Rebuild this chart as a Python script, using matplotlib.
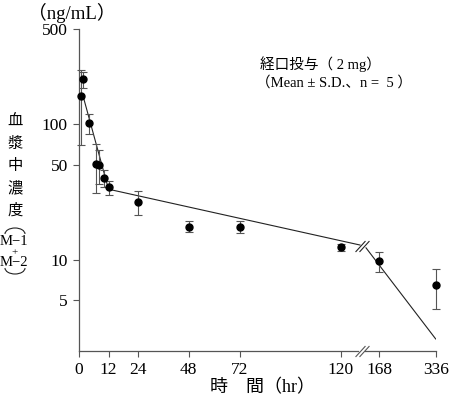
import numpy as np
import matplotlib
matplotlib.use('Agg')
from matplotlib import pyplot as plt
from matplotlib.path import Path
from matplotlib.patches import Arc

# data (hr, ng/mL)
time_h = [1, 1.5, 4, 7, 8, 10, 12, 24, 48, 72, 120, 168, 336]
conc = [160, 213, 101, 51, 50, 40, 34, 26.7, 17.5, 17.5, 12.3, 9.7, 6.45]
conc_sd = [90, 28, 17, 20, 14, 6, 4, 5.3, 1.6, 1.7, 0.75, 1.6, 2.1]

# fitted curve, drawn in two pieces around the axis break
fit1_t = [1.75, 12, 144]
fit1_c = [158, 33, 12.8]
fit2_t = [151.6, 336]
fit2_c = [12.2, 2.6]

xticks = [0, 12, 24, 48, 72, 120, 168, 336]
yticks = [5, 10, 50, 100, 500]
ylabel_chars = ['血', '漿', '中', '濃', '度']

# broken time axis: piecewise linear scale
sx = [0, 24, 120, 168, 336]
sp = [0, 59, 262, 300, 356.7]
def fwd(x):
    return np.interp(x, sx, sp)
def inv(p):
    return np.interp(p, sp, sx)

serif = ['Liberation Serif', 'Noto Sans CJK JP']
cjk = ['Noto Sans CJK JP', 'DejaVu Sans']
ink = '#222222'
axc = '#555555'

fig = plt.figure(figsize=(4.5, 3.98), dpi=100)
ax = fig.add_axes([79/450, 1-351/398, (435.7-79)/450, (351-29)/398])
ax.set_xscale('function', functions=(fwd, inv))
ax.set_yscale('log')
ax.set_xlim(0, 336)
ax.set_ylim(2.12, 500)

eb = ax.errorbar(time_h, conc, yerr=conc_sd, fmt='o', color='black', ms=5,
                 ecolor='#555555', elinewidth=0.8, capsize=3, capthick=0.8, zorder=3)
for art in eb.lines[1] + eb.lines[2] + (eb.lines[0],):
    art.set_clip_on(False)
ax.plot(fit1_t, fit1_c, color=ink, lw=0.8)
ax.plot(fit2_t, fit2_c, color=ink, lw=0.8)

# break marks
brk = Path([(-7, -5.5), (3, 5.5), (-3, -5.5), (7, 5.5)],
           [Path.MOVETO, Path.LINETO, Path.MOVETO, Path.LINETO])
ax.plot([146.5], [12.5], marker=brk, ms=10, mec=ink, mew=0.8, ls='none')
ax.plot([146.5], [2.12], marker=brk, ms=10, mec=axc, mew=0.8, ls='none', clip_on=False)

# bottom axis drawn by hand with a gap
for a, b in [(0, 142.1), (150.9, 336)]:
    ax.plot([a, b], [2.12, 2.12], color=axc, lw=0.9, clip_on=False)

ax.spines['top'].set_visible(False)
ax.spines['right'].set_visible(False)
ax.spines['bottom'].set_visible(False)
ax.spines['left'].set_color(axc)
ax.spines['left'].set_linewidth(0.9)

ax.set_xticks(xticks)
ax.set_xticklabels([str(v) for v in xticks], family=serif, fontsize=12.5)
ax.set_yticks(yticks)
ax.set_yticklabels([str(v) for v in yticks], family=serif, fontsize=12.5)
ax.yaxis.set_minor_locator(matplotlib.ticker.NullLocator())
ax.xaxis.set_minor_locator(matplotlib.ticker.NullLocator())
ax.tick_params(axis='both', length=4, width=0.8, color=axc, pad=4)

fig.text(72/450, 1-13/398, '（ng/mL）', family=serif, fontsize=13.5,
         ha='center', va='center')
ys = [120.7, 143, 165.7, 188, 210]
for ch, y in zip(ylabel_chars, ys):
    fig.text(15/450, 1-y/398, ch, family=cjk, fontsize=11, ha='center', va='center')
# bracket arcs around (M-1 + M-2)
fig.add_artist(Arc((15/450, 1-234/398), 20/450, 12/398, theta1=0, theta2=180,
                   transform=fig.transFigure, color=ink, lw=0.8))
fig.add_artist(Arc((15/450, 1-268/398), 20/450, 12/398, theta1=180, theta2=360,
                   transform=fig.transFigure, color=ink, lw=0.8))
fig.text(14/450, 1-241.5/398, 'M−1', family=serif, fontsize=10.5, ha='center', va='center')
fig.text(15/450, 1-252.5/398, '+', family=serif, fontsize=8, ha='center', va='center')
fig.text(14/450, 1-263/398, 'M−2', family=serif, fontsize=10.5, ha='center', va='center')

fig.text(260/450, 1-64/398, '経口投与（ 2 mg）', family=serif, fontsize=10.5,
         ha='left', va='center')
fig.text(256/450, 1-83/398, '（Mean ± S.D.、n =  5 ）', family=serif, fontsize=10.5,
         ha='left', va='center')

fig.text(263/450, 1-388/398, '時　間（hr）', family=serif, fontsize=13,
         ha='center', va='center')

fig.savefig('out.png', dpi=100)
